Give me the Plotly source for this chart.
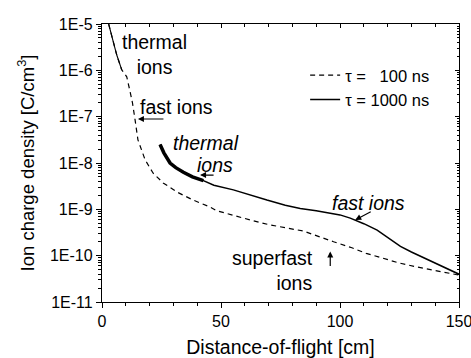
import numpy as np
import plotly.graph_objects as go

# ---- data ----
dist_100 = [2.8, 4.1, 6.2, 8.3, 10.4, 11.8, 12.8, 13.9, 15.1, 18.1, 21.5, 25.7, 31.6,
            38.3, 45.4, 48.2, 55, 62.3, 70, 77, 84.7, 97.3, 105, 111, 118.4, 125,
            132, 139.4, 145, 150]
logq_100 = [-5.0, -5.24, -5.67, -5.99, -6.14, -6.46, -6.70, -7.07, -7.50, -7.93, -8.22,
            -8.43, -8.63, -8.80, -8.95, -9.03, -9.13, -9.23, -9.33, -9.40, -9.47, -9.70,
            -9.83, -9.95, -10.06, -10.16, -10.24, -10.31, -10.37, -10.42]

dist_1000 = [24.4, 26, 28.6, 31, 34.2, 38, 42.6, 47, 55.2, 62, 69.3, 77, 83.3, 90,
             95.9, 100, 104.3, 110, 115.6, 120, 125.4, 130, 136.6, 143, 150]
logq_1000 = [-7.60, -7.78, -8.0, -8.1, -8.2, -8.3, -8.38, -8.48, -8.58, -8.69, -8.80,
             -8.91, -8.98, -9.03, -9.08, -9.12, -9.19, -9.31, -9.45, -9.60, -9.80,
             -9.92, -10.08, -10.24, -10.40]
thick_until = 45      # noisy (thick) early part of the 1000 ns curve
dense_until = 8.3     # steep early part of the 100 ns curve drawn densely (looks solid)

series_names = ["\u03c4 =\u00a0\u00a0\u00a0100 ns", "\u03c4 = 1000 ns"]
ytick_exp = [-11, -10, -9, -8, -7, -6, -5]
ytick_text = ["1E%d" % e for e in ytick_exp]
xtick_vals = [0, 50, 100, 150]

q_100 = [10 ** v for v in logq_100]
q_1000 = [10 ** v for v in logq_1000]
thick_x = [d for d in dist_1000 if d <= thick_until]
thick_y = [q for d, q in zip(dist_1000, q_1000) if d <= thick_until]
dense_x = [d for d in dist_100 if d <= dense_until]
dense_y = [q for d, q in zip(dist_100, q_100) if d <= dense_until]

FONT = "Liberation Sans, Arial, sans-serif"

fig = go.Figure()
fig.add_trace(go.Scatter(x=dist_100, y=q_100, mode="lines", name=series_names[0],
                         line=dict(color="black", width=1.2, dash="5px,4px")))
fig.add_trace(go.Scatter(x=dense_x, y=dense_y, mode="lines", showlegend=False,
                         line=dict(color="black", width=1.1)))
fig.add_trace(go.Scatter(x=dist_1000, y=q_1000, mode="lines", name=series_names[1],
                         line=dict(color="black", width=1.5)))
fig.add_trace(go.Scatter(x=thick_x, y=thick_y, mode="lines", showlegend=False,
                         line=dict(color="black", width=3.5)))
# invisible trace so the mirrored (top / right) frame axes get drawn
fig.add_trace(go.Scatter(x=dist_100, y=q_100, mode="lines", showlegend=False,
                         xaxis="x2", yaxis="y2", hoverinfo="skip",
                         line=dict(color="rgba(0,0,0,0)", width=0)))

minor_y = [k * 10.0 ** e for e in ytick_exp[:-1] for k in range(2, 10)]

axis_common = dict(showline=True, linecolor="black", linewidth=1.3, showgrid=False,
                   zeroline=False, tickcolor="black", tickwidth=1.1, automargin=False)

fig.update_layout(
    width=471, height=358,
    margin=dict(l=102, r=12, t=24, b=56),
    paper_bgcolor="white", plot_bgcolor="white",
    font=dict(family=FONT, size=16, color="black"),
    xaxis=dict(range=[0, 150], tickvals=xtick_vals, ticks="outside", ticklen=5,
               ticklabeloverflow="allow",
               minor=dict(dtick=10, ticks="outside", ticklen=3, tickcolor="black"),
               title=dict(text="Distance-of-flight [cm]", font=dict(size=19.5), standoff=17),
               **axis_common),
    yaxis=dict(type="log", range=[-11, -5], tickvals=[10.0 ** e for e in ytick_exp],
               ticktext=ytick_text, ticks="outside", ticklen=5,
               minor=dict(tickvals=minor_y, ticks="outside", ticklen=3, tickcolor="black"),
               title=dict(text="Ion charge density [C/cm<sup>3</sup>]", font=dict(size=18.5),
                          standoff=10),
               **axis_common),
    xaxis2=dict(overlaying="x", side="top", anchor="y", range=[0, 150], tickvals=xtick_vals,
                ticks="inside", ticklen=4, showticklabels=False,
                minor=dict(dtick=10, ticks="inside", ticklen=3, tickcolor="black"),
                **axis_common),
    yaxis2=dict(overlaying="y", side="right", anchor="x", type="log", range=[-11, -5],
                tickvals=[10.0 ** e for e in ytick_exp], ticks="inside", ticklen=4,
                showticklabels=False,
                minor=dict(tickvals=minor_y, ticks="inside", ticklen=2, tickcolor="black"),
                **axis_common),
    legend=dict(x=0.569, y=0.878, xanchor="left", yanchor="top", bgcolor="rgba(0,0,0,0)",
                font=dict(size=16.5), tracegroupgap=0),
    showlegend=True,
)

ann_font = dict(family=FONT, size=19.5, color="black")
notes = [
    dict(x=21.9, y=-5.65, text="thermal<br>ions", font=ann_font, align="center"),
    dict(x=31.1, y=-6.79, text="fast ions", font=ann_font),
    dict(x=43.5, y=-7.56, text="<i>thermal</i>", font=ann_font),
    dict(x=47.3, y=-8.04, text="<i>ions</i>", font=ann_font),
    dict(x=111.9, y=-8.87, text="<i>fast ions</i>", font=ann_font),
    dict(x=89.6, y=-10.31, text="superfast<br>ions", font=ann_font, align="right",
         xanchor="right"),
]
for n in notes:
    fig.add_annotation(xref="x", yref="y", showarrow=False, **n)

arrows = [
    dict(x=15.1, y=-7.05, ax=27, ay=0),
    dict(x=41.2, y=-8.26, ax=15, ay=0),
    dict(x=106.4, y=-9.23, ax=17, ay=-9),
    dict(x=95.9, y=-9.91, ax=0, ay=16),
]
for a in arrows:
    fig.add_annotation(xref="x", yref="y", text="", showarrow=True, arrowhead=2,
                       arrowsize=1, arrowwidth=1.2, arrowcolor="black", **a)

fig.write_html("out.html")
